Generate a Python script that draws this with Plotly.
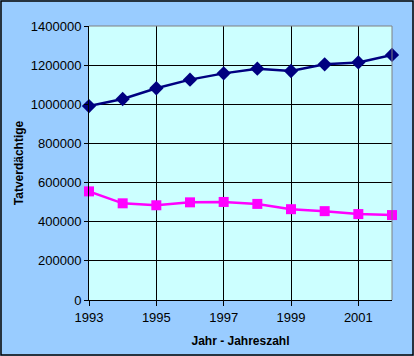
import plotly.graph_objects as go

years = [1993, 1994, 1995, 1996, 1997, 1998, 1999, 2000, 2001, 2002]
series_a = [991000, 1027000, 1082000, 1126000, 1158000, 1182000, 1170000, 1204000, 1214000, 1252000]
series_b = [555000, 494000, 484000, 499000, 501000, 491000, 464000, 454000, 439000, 434000]
x_ticks = [1993, 1995, 1997, 1999, 2001]
y_ticks = [0, 200000, 400000, 600000, 800000, 1000000, 1200000, 1400000]

W, H = 414, 356
L, R, T, B = 89, 22, 26, 56
pw, ph = W - L - R, H - T - B

fig = go.Figure()
fig.add_trace(go.Scatter(x=years, y=series_a, mode="lines+markers",
                         line=dict(color="#000080", width=2.5),
                         marker=dict(symbol="diamond", size=11, color="#000080"),
                         cliponaxis=False, showlegend=False))
fig.add_trace(go.Scatter(x=years, y=series_b, mode="lines+markers",
                         line=dict(color="#FF00FF", width=2.5),
                         marker=dict(symbol="square", size=10, color="#FF00FF"),
                         cliponaxis=False, showlegend=False))

font = dict(family="Liberation Sans, Arial, sans-serif", size=13, color="black")
fig.update_layout(
    width=W, height=H,
    margin=dict(l=L, r=R, t=T, b=B, autoexpand=False),
    paper_bgcolor="#99CCFF", plot_bgcolor="#CCFFFF",
    font=font,
    xaxis=dict(range=[1993, 2002], tickvals=x_ticks, ticktext=[str(v) for v in x_ticks],
               showgrid=True, gridcolor="black", gridwidth=1,
               ticks="outside", ticklen=5, tickcolor="black",
               showline=True, linecolor="black", mirror=False,
               zeroline=False, automargin=False,
               title=dict(text="<b>Jahr - Jahreszahl</b>", font=dict(size=12), standoff=13)),
    yaxis=dict(range=[0, 1400000], tickvals=y_ticks, ticktext=[str(v) for v in y_ticks],
               showgrid=True, gridcolor="black", gridwidth=1,
               ticks="outside", ticklen=4, tickcolor="black",
               showline=True, linecolor="black",
               zeroline=False, automargin=False,
               title=dict(text="<b>Tatverdächtige</b>", font=dict(size=12), standoff=4)),
    shapes=[
        dict(type="line", xref="paper", yref="paper", x0=0, x1=1, y0=1, y1=1,
             line=dict(color="#808080", width=1)),
        dict(type="line", xref="paper", yref="paper", x0=1, x1=1, y0=0, y1=1,
             line=dict(color="#808080", width=1)),
        dict(type="rect", xref="paper", yref="paper",
             x0=(-L + 1) / pw, x1=(pw + R - 1) / pw,
             y0=(-B + 1) / ph, y1=(ph + T - 1) / ph,
             line=dict(color="black", width=1.5)),
    ],
)

fig.write_html("out.html", config={"displayModeBar": False},
               post_script="document.body.style.margin='0';document.body.style.padding='0';")
